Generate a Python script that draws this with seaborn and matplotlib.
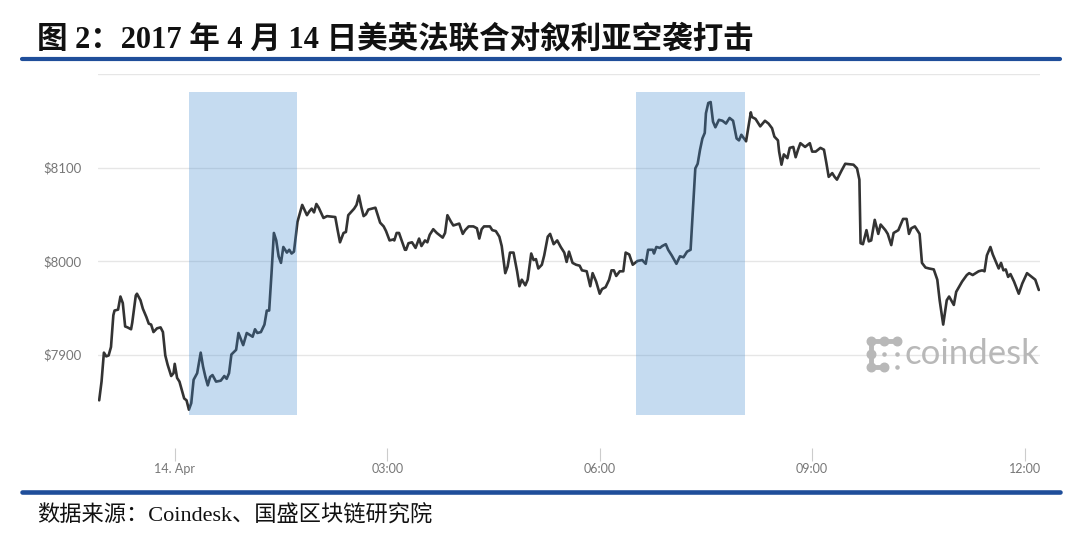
import matplotlib
matplotlib.use("Agg")
import matplotlib.pyplot as plt
from matplotlib.lines import Line2D
import pandas as pd
import seaborn as sns

# minutes from 14 Apr 00:00 and BTC price (USD)
minutes = [
    -64, -62, -60, -58, -56, -54, -52, -51, -48, -46,
    -44, -42, -40, -37, -36, -33, -32, -29, -27, -24,
    -22, -20, -18, -15, -12, -10, -8, -6, -3, -1,
    0, 2, 4, 6, 8, 10, 12, 14, 16, 19,
    22, 24, 26, 28, 30, 32, 35, 39, 42, 44,
    46, 48, 52, 54, 58, 61, 66, 68, 70, 73,
    76, 78, 80, 82, 84, 86, 88, 90, 92, 95,
    97, 99, 101, 104, 108, 112, 114, 116, 118, 120,
    122, 126, 129, 136, 138, 140, 143, 145, 147, 152,
    154, 156, 158, 160, 162, 164, 170, 172, 174, 177,
    179, 182, 185, 186, 188, 190, 193, 195, 196, 198,
    201, 204, 207, 209, 212, 214, 216, 219, 222, 227,
    229, 231, 234, 236, 241, 244, 246, 249, 253, 256,
    258, 260, 262, 267, 269, 272, 275, 277, 280, 282,
    284, 287, 290, 292, 294, 297, 299, 302, 304, 306,
    308, 311, 313, 316, 318, 321, 324, 327, 330, 332,
    334, 337, 340, 343, 345, 349, 352, 354, 357, 360,
    362, 365, 368, 370, 372, 374, 377, 380, 382, 385,
    388, 392, 396, 399, 401, 405, 406, 408, 411, 413,
    416, 418, 421, 425, 428, 431, 434, 437, 440, 441,
    443, 445, 447, 449, 450, 452, 454, 456, 458, 461,
    464, 467, 470, 473, 476, 478, 480, 484, 488, 489,
    492, 496, 500, 503, 506, 508, 511, 512, 514, 516,
    519, 521, 524, 526, 528, 530, 534, 538, 540, 543,
    547, 550, 552, 554, 557, 559, 561, 565, 568, 575,
    578, 580, 581, 583, 586, 588, 590, 593, 596, 598,
    602, 604, 607, 609, 613, 617, 620, 622, 624, 627,
    631, 633, 636, 639, 643, 646, 648, 651, 654, 656,
    660, 662, 667, 671, 673, 676, 681, 684, 686, 688,
    691, 693, 696, 698, 700, 702, 704, 706, 708, 711,
    715, 718, 722, 724, 729, 732,
]
prices = [
    7851, 7871, 7902, 7898, 7899, 7908, 7942, 7947, 7948, 7962,
    7955, 7930, 7929, 7927, 7934, 7963, 7965, 7958, 7949, 7940,
    7933, 7932, 7924, 7928, 7929, 7924, 7899, 7889, 7877, 7880,
    7890, 7875, 7871, 7862, 7853, 7851, 7841, 7848, 7873, 7880,
    7902, 7887, 7876, 7867, 7876, 7878, 7871, 7872, 7877, 7874,
    7880, 7900, 7905, 7923, 7910, 7923, 7919, 7927, 7923, 7924,
    7932, 7947, 7947, 7987, 8030, 8022, 8005, 7998, 8015, 8009,
    8012, 8008, 8010, 8042, 8060, 8049, 8053, 8056, 8052, 8061,
    8057, 8046, 8048, 8047, 8033, 8020, 8030, 8031, 8049, 8056,
    8060, 8070, 8058, 8048, 8050, 8055, 8057, 8049, 8041, 8037,
    8032, 8022, 8023, 8022, 8030, 8030, 8019, 8012, 8012, 8019,
    8020, 8014, 8024, 8016, 8022, 8020, 8028, 8034, 8030, 8025,
    8030, 8049, 8042, 8038, 8040, 8029, 8033, 8037, 8037, 8035,
    8024, 8034, 8037, 8037, 8033, 8032, 8026, 8016, 7987, 7994,
    8009, 8009, 7989, 7973, 7980, 7974, 7980, 8008, 8001, 8002,
    7992, 7996, 8006, 8026, 8029, 8018, 8022, 8015, 8009, 7999,
    8010, 7998, 7996, 7995, 7990, 7989, 7973, 7987, 7978, 7965,
    7970, 7972, 7980, 7990, 7990, 7984, 7989, 7989, 8009, 8007,
    7996, 8000, 8001, 7997, 8012, 8012, 8008, 8015, 8014, 8016,
    8018, 8012, 8006, 7997, 8005, 8004, 8010, 8012, 8076, 8099,
    8104, 8119, 8131, 8137, 8158, 8169, 8170, 8149, 8143, 8151,
    8150, 8147, 8153, 8150, 8131, 8129, 8135, 8128, 8159, 8154,
    8152, 8144, 8150, 8147, 8142, 8133, 8129, 8117, 8103, 8114,
    8110, 8121, 8122, 8111, 8119, 8126, 8122, 8126, 8117, 8117,
    8121, 8119, 8105, 8090, 8094, 8090, 8087, 8097, 8104, 8103,
    8099, 8087, 8019, 8018, 8033, 8021, 8022, 8044, 8029, 8039,
    8033, 8029, 8017, 8030, 8033, 8045, 8045, 8029, 8035, 8037,
    8029, 7998, 7993, 7992, 7991, 7980, 7958, 7932, 7958, 7962,
    7953, 7967, 7978, 7985, 7987, 7985, 7989, 7990, 7989, 8006,
    8015, 8007, 7998, 7992, 7998, 7990, 7991, 7983, 7986, 7978,
    7965, 7976, 7987, 7985, 7980, 7969,
]

# highlighted windows (strike news), minutes from 14 Apr 00:00
shade_start = [12, 391]
shade_end = [104, 483]
shade_low, shade_high = 7835, 8181

xtick_pos = [0, 180, 360, 540, 720]
xtick_labels = ["14. Apr", "03:00", "06:00", "09:00", "12:00"]
ytick_pos = [7900, 8000, 8100, 8200]
ytick_labels = ["$7900", "$8000", "$8100", ""]

title = "图 2：2017 年 4 月 14 日美英法联合对叙利亚空袭打击"
source = "数据来源：Coindesk、国盛区块链研究院"

df = pd.DataFrame({"minute": minutes, "price": prices})

sns.set_theme(style="white")
plt.rcParams["font.family"] = ["Lato", "DejaVu Sans"]

W, H = 1080, 549
fig = plt.figure(figsize=(W / 100, H / 100), dpi=100)
ax = fig.add_axes([98 / W, 1 - 448 / H, (1040 - 98) / W, (448 - 74) / H])

sns.lineplot(data=df, x="minute", y="price", ax=ax, color="#333333",
             linewidth=1.9, estimator=None, sort=False, zorder=3)

for s, e in zip(shade_start, shade_end):
    ax.fill_between([s, e], shade_low, shade_high, color="#418ad0",
                    alpha=0.3, linewidth=0, zorder=4)

ax.set_xlim(-65, 733)
ax.set_ylim(7800, 8200)
ax.set_yticks(ytick_pos)
ax.set_yticklabels(ytick_labels)
ax.set_xticks(xtick_pos)
ax.set_xticklabels(xtick_labels)
ax.set_xlabel("")
ax.set_ylabel("")
ax.grid(axis="y", color="#e6e6e6", linewidth=1)
ax.tick_params(axis="y", left=False, length=0, pad=12, labelsize=9.5,
               labelcolor="#777777")
ax.tick_params(axis="x", bottom=True, direction="out", length=9, width=0.8,
               color="#cccccc", pad=2, labelsize=9, labelcolor="#777777")
for sp in ax.spines.values():
    sp.set_visible(False)

# coindesk watermark
fig.text(904 / W, 1 - 354 / H, "coindesk", color="#b8b8b8", fontsize=25,
         va="center", ha="left", family=["Lato", "DejaVu Sans"])
lg = fig.add_axes([864 / W, 1 - 374 / H, 40 / W, 40 / H])
lg.set_xlim(-0.5, 2.5)
lg.set_ylim(-0.5, 2.5)
lg.axis("off")
lg.plot([2, 0, 0, 1], [2, 2, 0, 0], color="#b8b8b8", linewidth=3.5,
        solid_capstyle="round")
lg.scatter([0, 1, 2, 0, 0, 1], [2, 2, 2, 1, 0, 0], s=38, color="#b8b8b8")
lg.scatter([1, 2, 2], [1, 1, 0], s=5, color="#b8b8b8")

# header / footer
fig.text(37 / W, 1 - 40 / H, title, fontsize=22, fontweight="bold",
         va="center", ha="left", color="#111111",
         family=["Liberation Serif", "Noto Sans CJK SC"])
fig.add_artist(Line2D([22 / W, 1060 / W], [1 - 59 / H, 1 - 59 / H],
                      color="#1f4e9a", linewidth=3))
fig.add_artist(Line2D([22 / W, 1060 / W], [1 - 492 / H, 1 - 492 / H],
                      color="#1f4e9a", linewidth=3.3))
fig.text(37 / W, 1 - 516 / H, source, fontsize=16, va="center", ha="left",
         color="#111111", family=["Liberation Serif", "Noto Sans CJK SC"])

fig.savefig("out.png", dpi=100, facecolor="white")
